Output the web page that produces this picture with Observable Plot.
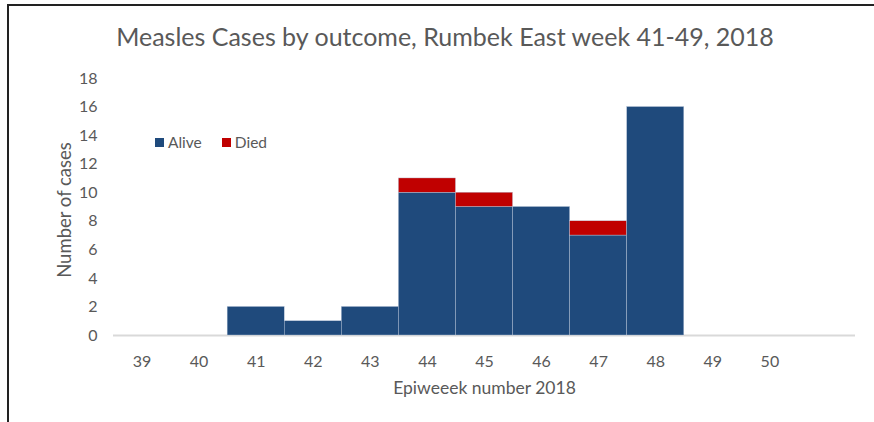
<!DOCTYPE html>
<html>
<head>
<meta charset="utf-8">
<script src="https://cdn.jsdelivr.net/npm/d3@7"></script>
<script src="https://cdn.jsdelivr.net/npm/@observablehq/plot@0.6"></script>
<style>
  html, body { margin: 0; padding: 0; background: #fff; }
  #wrap { position: relative; width: 874px; height: 422px; overflow: hidden; font-family: Lato, "Open Sans", sans-serif; }
  #frameTop { position: absolute; left: 8px; top: 4px; width: 866px; height: 2px; background: #222; }
  #frameLeft { position: absolute; left: 7px; top: 4px; width: 2px; height: 418px; background: #222; }
  #title { position: absolute; left: 0; width: 890px; top: 21px; text-align: center; font-size: 25px; color: #595959; }
  #legend { position: absolute; left: 155px; top: 133px; font-size: 15.5px; color: #595959; display: flex; align-items: center; }
  #legend span.sw { display: inline-block; width: 9px; height: 9px; margin-right: 4px; }
  #legend span.item { display: inline-flex; align-items: center; margin-right: 20px; }
  svg { position: absolute; left: 0; top: 0; }
</style>
</head>
<body>
<div id="wrap">
  <div id="frameTop"></div>
  <div id="frameLeft"></div>
  <div id="title">Measles Cases by outcome, Rumbek East week 41-49, 2018</div>
  <div id="legend"></div>
</div>
<script>
const weeks = [39, 40, 41, 42, 43, 44, 45, 46, 47, 48, 49, 50];
const alive = [0, 0, 2, 1, 2, 10, 9, 9, 7, 16, 0, 0];
const died  = [0, 0, 0, 0, 0, 1, 1, 0, 1, 0, 0, 0];
const seriesNames = ["Alive", "Died"];
const seriesColors = ["#1f4a7c", "#c00000"];
const yTicks = [0, 2, 4, 6, 8, 10, 12, 14, 16, 18];
const xTitle = "Epiweeek number 2018";
const yTitle = "Number of cases";

const rows = [];
weeks.forEach((w, i) => {
  rows.push({week: w, outcome: "Alive", y1: 0, y2: alive[i]});
  rows.push({week: w, outcome: "Died", y1: alive[i], y2: alive[i] + died[i]});
});
const bars = rows.filter(r => r.y2 > r.y1);

const chart = Plot.plot({
  width: 874,
  height: 422,
  marginLeft: 113,
  marginRight: 19,
  marginTop: 78,
  marginBottom: 87,
  style: {fontFamily: "Lato, 'Open Sans', sans-serif", color: "#595959", background: "transparent"},
  x: {domain: [38.5, 51.5]},
  y: {domain: [0, 18]},
  color: {domain: seriesNames, range: seriesColors},
  marks: [
    Plot.ruleY([0], {stroke: "#d9d9d9", strokeWidth: 2}),
    Plot.rectY(bars, {
      x1: d => d.week - 0.5,
      x2: d => d.week + 0.5,
      y1: "y1",
      y2: "y2",
      fill: "outcome",
      stroke: "#b9c6da",
      strokeWidth: 0.4
    }),
    Plot.axisX({
      ticks: weeks,
      tickFormat: d => String(d),
      tickSize: 0,
      tickPadding: 20,
      fontSize: 16,
      fill: "#595959",
      label: null
    }),
    Plot.axisY({
      ticks: yTicks,
      tickSize: 0,
      tickPadding: 16,
      fontSize: 16,
      fill: "#595959",
      label: null
    }),
    Plot.text([xTitle], {frameAnchor: "bottom", lineAnchor: "middle", dy: 53, fontSize: 17.5, fill: "#595959", text: d => d}),
    Plot.text([yTitle], {frameAnchor: "left", textAnchor: "middle", lineAnchor: "middle", dx: -48, dy: 3, rotate: -90, fontSize: 18.5, fill: "#595959", text: d => d})
  ]
});
document.getElementById("wrap").appendChild(chart);

const legend = document.getElementById("legend");
seriesNames.forEach((n, i) => {
  const item = document.createElement("span");
  item.className = "item";
  item.innerHTML = `<span class="sw" style="background:${seriesColors[i]}"></span>${n}`;
  legend.appendChild(item);
});
</script>
</body>
</html>
